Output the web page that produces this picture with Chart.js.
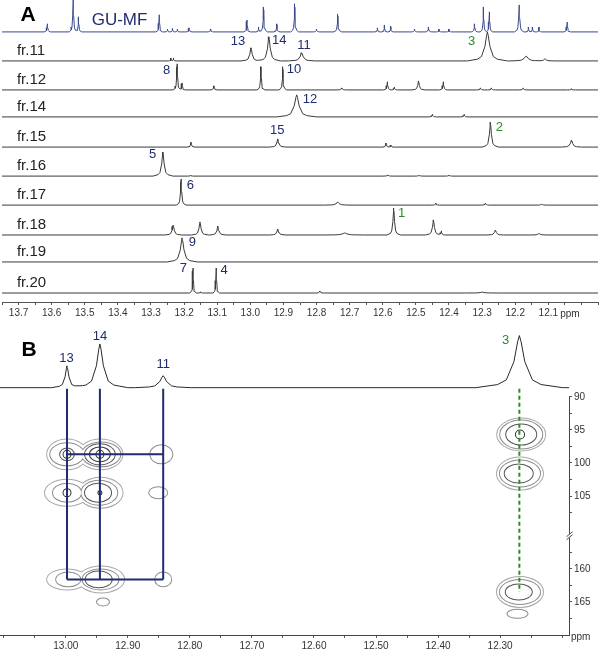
<!DOCTYPE html>
<html>
<head>
<meta charset="utf-8">
<script src="https://cdn.jsdelivr.net/npm/chart.js@4/dist/chart.umd.min.js"></script>
<style>
  body { margin: 0; background: #fff; width: 600px; height: 659px; overflow: hidden; position: relative; }
  #wrapA { position: absolute; left: 0; top: 0; width: 600px; height: 325px; }
  #wrapB { position: absolute; left: 0; top: 325px; width: 600px; height: 334px; }
</style>
</head>
<body>
<div id="wrapA"><canvas id="chartA"></canvas></div>
<div id="wrapB"><canvas id="chartB"></canvas></div>
<script>
// ---- panel A: 1H spectra, peaks as [ppm, height, linewidth] ----
const traceNames = ['GU-MF', 'fr.11', 'fr.12', 'fr.14', 'fr.15', 'fr.16', 'fr.17', 'fr.18', 'fr.19', 'fr.20'];

const peaksGUMF = [[13.613, 0.28, 0.01], [13.535, 1.12, 0.012], [13.519, 0.52, 0.01], [13.275, 0.59, 0.01],
  [13.25, 0.1, 0.008], [13.235, 0.12, 0.008], [13.22, 0.1, 0.008], [13.185, 0.14, 0.01], [13.12, 0.1, 0.01],
  [13.01, 0.41, 0.01], [12.975, 0.17, 0.008], [12.96, 0.86, 0.012], [12.92, 0.28, 0.01], [12.866, 0.97, 0.012],
  [12.80, 0.1, 0.01], [12.736, 0.62, 0.012], [12.616, 0.14, 0.008], [12.595, 0.24, 0.008], [12.576, 0.2, 0.008],
  [12.504, 0.1, 0.01], [12.462, 0.17, 0.01], [12.43, 0.1, 0.008], [12.40, 0.1, 0.008], [12.323, 0.28, 0.01],
  [12.296, 0.86, 0.01], [12.278, 0.69, 0.01], [12.188, 0.93, 0.014], [12.16, 0.17, 0.008], [12.148, 0.17, 0.008],
  [12.128, 0.17, 0.008], [12.043, 0.34, 0.01]];
const peaksFr11 = [[13.24, 0.1, 0.008], [13.232, 0.1, 0.008], [12.998, 0.45, 0.03], [12.944, 0.83, 0.035],
  [12.845, 0.28, 0.04], [12.284, 1.0, 0.06], [12.167, 0.17, 0.05], [12.11, 0.07, 0.03]];
const peaksFr12 = [[13.221, 0.9, 0.012], [13.206, 0.24, 0.01], [13.11, 0.14, 0.012], [12.968, 0.8, 0.012],
  [12.902, 0.8, 0.012], [12.724, 0.07, 0.015], [12.586, 0.28, 0.012], [12.565, 0.1, 0.01], [12.492, 0.31, 0.02],
  [12.417, 0.28, 0.012], [12.305, 0.07, 0.012], [12.272, 0.07, 0.012], [12.176, 0.07, 0.012], [12.03, 0.04, 0.012]];
const peaksFr14 = [[12.86, 0.76, 0.06], [12.45, 0.09, 0.012], [12.354, 0.09, 0.012]];
const peaksFr15 = [[13.179, 0.17, 0.012], [12.917, 0.28, 0.025], [12.59, 0.14, 0.012], [12.575, 0.07, 0.01],
  [12.275, 0.86, 0.025], [12.03, 0.24, 0.03]];
const peaksFr16 = [[13.264, 0.83, 0.03], [13.18, 0.03, 0.01], [12.585, 0.04, 0.015], [12.49, 0.03, 0.015], [12.4, 0.03, 0.015]];
const peaksFr17 = [[13.209, 0.9, 0.015], [12.736, 0.1, 0.04], [12.44, 0.07, 0.012], [12.29, 0.07, 0.012], [12.12, 0.03, 0.02]];
const peaksFr18 = [[13.233, 0.34, 0.025], [13.152, 0.45, 0.025], [13.098, 0.3, 0.025], [12.917, 0.2, 0.025],
  [12.715, 0.07, 0.06], [12.567, 0.93, 0.02], [12.447, 0.52, 0.025], [12.423, 0.14, 0.012], [12.26, 0.17, 0.025],
  [12.128, 0.05, 0.03]];
const peaksFr19 = [[13.206, 0.83, 0.045]];
const peaksFr20 = [[13.173, 0.86, 0.01], [13.15, 0.04, 0.01], [13.103, 0.86, 0.01], [12.79, 0.07, 0.012], [12.3, 0.03, 0.05]];

const peaksA = [peaksGUMF, peaksFr11, peaksFr12, peaksFr14, peaksFr15, peaksFr16, peaksFr17, peaksFr18, peaksFr19, peaksFr20];

// compound numbers: [label, ppm, intensity-position]
const labelsA = [['13', 13.037, 8.66], ['14', 12.913, 8.72], ['11', 12.838, 8.55], ['3', 12.332, 8.66],
  ['8', 13.253, 7.66], ['10', 12.868, 7.69], ['12', 12.82, 6.69], ['15', 12.919, 5.59], ['2', 12.248, 5.72],
  ['5', 13.295, 4.76], ['6', 13.181, 3.72], ['1', 12.543, 2.76], ['9', 13.175, 1.76], ['7', 13.202, 0.86],
  ['4', 13.079, 0.79]];
const greenCompounds = ['1', '2', '3'];

const ticksA = [13.7, 13.6, 13.5, 13.4, 13.3, 13.2, 13.1, 13.0, 12.9, 12.8, 12.7, 12.6, 12.5, 12.4, 12.3, 12.2, 12.1];

// ---- panel B: 1D trace and HMBC cross peaks ----
const peaksB = [[12.998, 0.42, 0.025], [12.945, 0.84, 0.045], [12.843, 0.23, 0.045], [12.269, 1.0, 0.07]];
const labelsB = [['13', 12.999, 0.57], ['14', 12.945, 0.99], ['11', 12.843, 0.44], ['3', 12.291, 0.9]];

const hmbcH = [12.998, 12.945, 12.843];   // 13, 14, 11
const hmbcC = [98.7, 161.6];
const h3 = 12.269, c3 = 163.5;

// [ppm H, ppm C, radius H, radius C, contour level]
const contours1314 = [
  [12.998, 98.7, 0.032, 2.26, 0], [12.944, 98.7, 0.0355, 2.26, 0],
  [12.998, 98.7, 0.027, 1.66, 1], [12.943, 98.7, 0.031, 1.81, 1],
  [12.998, 98.7, 0.011, 0.9, 2], [12.945, 98.7, 0.024, 1.51, 2],
  [12.945, 98.7, 0.016, 1.05, 3],
  [12.998, 98.7, 0.0056, 0.53, 4], [12.945, 98.7, 0.0056, 0.53, 4],
  [12.998, 104.5, 0.0355, 1.96, 0], [12.944, 104.5, 0.0355, 2.26, 0],
  [12.998, 104.5, 0.0226, 1.36, 1], [12.946, 104.5, 0.029, 1.81, 1],
  [12.948, 104.5, 0.021, 1.36, 2],
  [12.998, 104.5, 0.0056, 0.53, 4], [12.945, 104.5, 0.0024, 0.23, 4],
  [12.998, 161.6, 0.032, 1.51, 0], [12.943, 161.6, 0.037, 1.96, 0],
  [12.996, 161.6, 0.0194, 1.05, 1], [12.944, 161.6, 0.029, 1.51, 1],
  [12.947, 161.6, 0.021, 1.2, 2],
  [12.94, 165.0, 0.0097, 0.53, 1]
];
const contours11 = [[12.846, 98.7, 0.0177, 1.36, 1], [12.851, 104.5, 0.0145, 0.83, 1], [12.843, 161.6, 0.0129, 1.05, 1]];
const contours3 = [
  [12.266, 95.7, 0.0387, 2.41, 0], [12.266, 95.7, 0.0339, 2.11, 1], [12.266, 95.7, 0.0242, 1.51, 2], [12.268, 95.7, 0.0065, 0.6, 4],
  [12.268, 101.6, 0.0371, 2.41, 0], [12.268, 101.6, 0.0323, 1.96, 1], [12.27, 101.6, 0.0226, 1.36, 2],
  [12.268, 163.5, 0.0371, 2.26, 0], [12.268, 163.5, 0.0323, 1.81, 1], [12.27, 163.5, 0.021, 1.13, 2],
  [12.272, 166.8, 0.0161, 0.6, 1]
];

const ticksB = [13.0, 12.9, 12.8, 12.7, 12.6, 12.5, 12.4, 12.3];
const ticksC = [90, 95, 100, 105, 160, 165];
const minorC = [92.5, 97.5, 102.5, 107.5, 157.5, 162.5, 167.5];

// ---- helpers / styles ----
const FONT = '"Liberation Sans", Arial, sans-serif';
const NAVY = '#1f2d6e';
const GREEN = '#2a8c2a';
const baselinesA = [9.0, 8.0, 7.0, 6.07, 5.03, 4.03, 3.03, 2.0, 1.07, 0];
const levelColors = ['#a8a8a8', '#8c8c8c', '#555', '#3a3a3a', '#2a2a2a'];
const PEAK_SHAPE = [[-1, 0], [-0.5, 0.06], [-0.3, 0.15], [-0.125, 0.5], [-0.04, 0.88], [0, 1],
  [0.04, 0.88], [0.125, 0.5], [0.3, 0.15], [0.5, 0.06], [1, 0]];

// axis break: C shifts down by 44 ppm above 130
const toV = c => (c > 130 ? c - 44 : c);
const fromV = v => (v > 111 ? v + 44 : v);

function profile(p, x) {
  const d = (x - p[0]) / p[2];
  if (d <= -1 || d >= 1) return 0;
  for (let i = 1; i < PEAK_SHAPE.length; i++) {
    const a = PEAK_SHAPE[i - 1], b = PEAK_SHAPE[i];
    if (d <= b[0]) return p[1] * (a[1] + (b[1] - a[1]) * (d - a[0]) / (b[0] - a[0]));
  }
  return 0;
}

function buildTrace(peaks, base, lo, hi) {
  const xs = [lo, hi];
  peaks.forEach(p => PEAK_SHAPE.forEach(s => xs.push(p[0] + s[0] * p[2])));
  return xs.filter(x => x >= lo && x <= hi).sort((a, b) => a - b)
    .map(x => ({ x: x, y: base + peaks.reduce((s, p) => s + profile(p, x), 0) }));
}

function marks(from, to, step) {
  const out = [];
  for (let v = from; v >= to - 1e-9; v -= step) out.push({ value: Math.round(v * 1000) / 1000 });
  return out;
}
const hasTick = (list, v) => list.some(t => Math.abs(t - v) < 1e-6);

// ---- chart A ----
const xMinA = 11.95, xMaxA = 13.75;

const panelAText = {
  id: 'panelAText',
  afterDatasetsDraw(chart) {
    const { ctx, scales: { x, y } } = chart;
    ctx.save();
    ctx.textBaseline = 'middle';
    ctx.textAlign = 'center';
    ctx.font = '13px ' + FONT;
    labelsA.forEach(l => {
      ctx.fillStyle = greenCompounds.includes(l[0]) ? GREEN : NAVY;
      ctx.fillText(l[0], x.getPixelForValue(l[1]), y.getPixelForValue(l[2]));
    });
    ctx.textAlign = 'left';
    ctx.fillStyle = '#222';
    ctx.font = '15px ' + FONT;
    traceNames.slice(1).forEach((n, i) => {
      ctx.fillText(n, x.getPixelForValue(13.705), y.getPixelForValue(baselinesA[i + 1] + 0.35));
    });
    ctx.fillStyle = NAVY;
    ctx.font = '17px ' + FONT;
    ctx.textAlign = 'center';
    ctx.fillText(traceNames[0], x.getPixelForValue(13.395), y.getPixelForValue(9.41));
    ctx.fillStyle = '#000';
    ctx.font = 'bold 21px ' + FONT;
    ctx.fillText('A', 28, 15);
    ctx.fillStyle = '#333';
    ctx.font = '10px ' + FONT;
    ctx.fillText('ppm', x.getPixelForValue(12.035), x.bottom - 11);
    ctx.restore();
  }
};

new Chart(document.getElementById('chartA'), {
  type: 'line',
  data: {
    datasets: peaksA.map((pk, i) => ({
      data: buildTrace(pk, baselinesA[i], xMinA, xMaxA),
      borderColor: i === 0 ? '#3b4a8c' : '#3a3a3a',
      borderWidth: 1,
      pointRadius: 0,
      tension: 0
    }))
  },
  options: {
    responsive: true,
    maintainAspectRatio: false,
    animation: false,
    events: [],
    layout: { padding: { left: 0, right: 2, top: 0, bottom: 0 } },
    plugins: { legend: { display: false }, tooltip: { enabled: false } },
    scales: {
      x: {
        type: 'linear', min: xMinA, max: xMaxA, reverse: true,
        afterBuildTicks: s => { s.ticks = marks(13.75, 11.95, 0.05); },
        afterFit: s => { s.height = 23; },
        ticks: {
          autoSkip: false, maxRotation: 0, padding: 2, color: '#333',
          font: { size: 10, family: FONT },
          callback: v => (hasTick(ticksA, v) ? v.toFixed(1) : '')
        },
        grid: { drawOnChartArea: false, tickLength: 3, color: '#555' },
        border: { color: '#555', width: 1 }
      },
      y: { type: 'linear', display: false, min: -0.31, max: 10.1 }
    }
  },
  plugins: [panelAText]
});

// ---- chart B ----
const xMinB = 12.189, xMaxB = 13.106;

const hmbcLines = [];
hmbcH.forEach(h => hmbcLines.push([[h, 88.8], [h, toV(hmbcC[1])]]));
hmbcC.forEach(c => hmbcLines.push([[hmbcH[0], toV(c)], [hmbcH[2], toV(c)]]));

const contourDraw = {
  id: 'contourDraw',
  beforeDatasetsDraw(chart) {
    const { ctx, scales: { x, y } } = chart;
    const all = contours1314.concat(contours11, contours3);
    ctx.save();
    for (let lev = 0; lev < levelColors.length; lev++) {
      const set = all.filter(c => c[4] === lev).map(c => {
        const cx = x.getPixelForValue(c[0]);
        const cy = y.getPixelForValue(toV(c[1]));
        return [cx, cy, Math.abs(x.getPixelForValue(c[0] + c[2]) - cx), Math.abs(y.getPixelForValue(toV(c[1]) + c[3]) - cy)];
      });
      ctx.strokeStyle = levelColors[lev];
      ctx.lineWidth = 2;
      set.forEach(e => { ctx.beginPath(); ctx.ellipse(e[0], e[1], e[2], e[3], 0, 0, Math.PI * 2); ctx.stroke(); });
      ctx.fillStyle = '#fff';
      set.forEach(e => { ctx.beginPath(); ctx.ellipse(e[0], e[1], e[2], e[3], 0, 0, Math.PI * 2); ctx.fill(); });
    }
    ctx.restore();
  },
  afterDatasetsDraw(chart) {
    const { ctx, chartArea, scales: { x, y, yT } } = chart;
    ctx.save();
    // right axis line with break
    const ax = chartArea.right + 0.5;
    ctx.strokeStyle = '#444';
    ctx.lineWidth = 1;
    ctx.beginPath();
    ctx.moveTo(ax, y.getPixelForValue(90));
    ctx.lineTo(ax, chartArea.bottom);
    ctx.stroke();
    const by = y.getPixelForValue(111);
    ctx.fillStyle = '#fff';
    ctx.fillRect(ax - 4, by - 2, 8, 4);
    ctx.beginPath();
    ctx.moveTo(ax - 3, by + 1); ctx.lineTo(ax + 3, by - 4);
    ctx.moveTo(ax - 3, by + 4); ctx.lineTo(ax + 3, by - 1);
    ctx.stroke();
    // labels
    ctx.textAlign = 'center';
    ctx.textBaseline = 'middle';
    ctx.font = '13px ' + FONT;
    labelsB.forEach(l => {
      ctx.fillStyle = greenCompounds.includes(l[0]) ? GREEN : NAVY;
      ctx.fillText(l[0], x.getPixelForValue(l[1]), yT.getPixelForValue(l[2]));
    });
    ctx.fillStyle = '#000';
    ctx.font = 'bold 21px ' + FONT;
    ctx.fillText('B', 29, 25);
    ctx.fillStyle = '#333';
    ctx.font = '10px ' + FONT;
    ctx.textAlign = 'left';
    ctx.fillText('ppm', chartArea.right + 2, chartArea.bottom + 2);
    ctx.restore();
  }
};

const datasetsB = [{
  data: buildTrace(peaksB, 0, xMinB, xMaxB),
  yAxisID: 'yT', borderColor: '#2a2a2a', borderWidth: 1, pointRadius: 0, tension: 0
}];
hmbcLines.forEach(seg => datasetsB.push({
  data: seg.map(p => ({ x: p[0], y: p[1] })),
  yAxisID: 'y', borderColor: NAVY, borderWidth: 2, pointRadius: 0, tension: 0
}));
datasetsB.push({
  data: [{ x: h3, y: 88.8 }, { x: h3, y: toV(c3) }],
  yAxisID: 'y', borderColor: GREEN, borderWidth: 2, borderDash: [4, 3], pointRadius: 0, tension: 0
});

new Chart(document.getElementById('chartB'), {
  type: 'line',
  data: { datasets: datasetsB },
  options: {
    responsive: true,
    maintainAspectRatio: false,
    animation: false,
    events: [],
    layout: { padding: { left: 0, right: 0, top: 7, bottom: 0 } },
    plugins: { legend: { display: false }, tooltip: { enabled: false } },
    scales: {
      x: {
        type: 'linear', min: xMinB, max: xMaxB, reverse: true,
        afterBuildTicks: s => { s.ticks = marks(13.1, 12.2, 0.05); },
        afterFit: s => { s.height = 24; },
        ticks: {
          autoSkip: false, maxRotation: 0, padding: 2, color: '#333',
          font: { size: 10, family: FONT },
          callback: v => (hasTick(ticksB, v) ? v.toFixed(2) : '')
        },
        grid: { drawOnChartArea: false, tickLength: 3, color: '#555' },
        border: { color: '#444', width: 1 }
      },
      y: {
        type: 'linear', position: 'right', min: 80.36, max: 126, reverse: true,
        afterBuildTicks: s => { s.ticks = ticksC.concat(minorC).map(c => ({ value: toV(c) })); },
        afterFit: s => { s.width = 31; },
        ticks: {
          autoSkip: false, padding: 2, color: '#333',
          font: { size: 10, family: FONT },
          callback: v => (hasTick(ticksC, fromV(v)) ? String(fromV(v)) : '')
        },
        grid: { drawOnChartArea: false, tickLength: 3, color: '#555' },
        border: { display: false }
      },
      yT: { type: 'linear', display: false, min: -4.75, max: 1.05 }
    }
  },
  plugins: [contourDraw]
});
</script>
</body>
</html>
